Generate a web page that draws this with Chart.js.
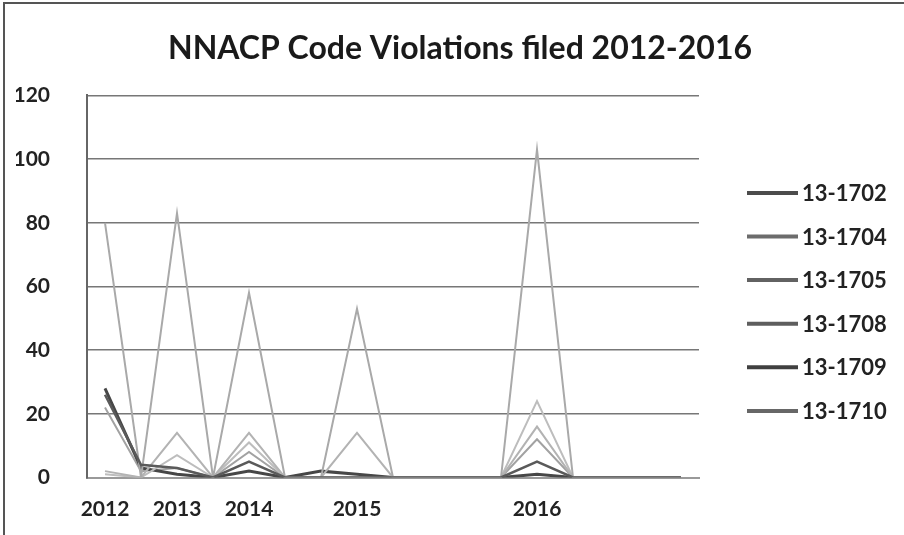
<!DOCTYPE html>
<html>
<head>
<meta charset="utf-8">
<title>NNACP Code Violations filed 2012-2016</title>
<script src="https://cdn.jsdelivr.net/npm/chart.js@4/dist/chart.umd.min.js"></script>
<style>
  html, body { margin: 0; padding: 0; background: #fff; }
</style>
</head>
<body>
<canvas id="violations" width="904" height="535"></canvas>
<script>
// Filing periods along the x axis; only the first period of each year carries a label
const periods = ["2012", "", "2013", "", "2014", "", "", "2015", "", "", "", "", "2016", "", "", "", ""];
const yTicks = [0, 20, 40, 60, 80, 100, 120];

// Code sections, one line each
const codes = ["13-1702", "13-1704", "13-1705", "13-1708", "13-1709", "13-1710"];

// Violations filed per period for each code
const v1702 = [26, 4, 3, 0, 5, 0, 0, 0, 0, 0, 0, 0, 5, 0, 0, 0, 0];
const v1704 = [80, 0, 83, 0, 58, 0, 0, 53, 0, 0, 0, 0, 103, 0, 0, 0, 0];
const v1705 = [2, 0, 14, 0, 14, 0, 0, 14, 0, 0, 0, 0, 16, 0, 0, 0, 0];
const v1708 = [1, 0, 7, 0, 11, 0, 0, 0, 0, 0, 0, 0, 24, 0, 0, 0, 0];
const v1709 = [28, 3, 1, 0, 2, 0, 2, 1, 0, 0, 0, 0, 1, 0, 0, 0, 0];
const v1710 = [22, 2, 3, 0, 8, 0, 0, 0, 0, 0, 0, 0, 12, 0, 0, 0, 0];

const seriesValues = [v1702, v1704, v1705, v1708, v1709, v1710];

// line styles: plot stroke, legend stroke, width
const lineColors = ["#5a5a5a", "#a9a9a9", "#b3b3b3", "#bdbdbd", "#474747", "#a2a2a2"];
const legendColors = ["#4c4c4c", "#6c6c6c", "#626262", "#5e5e5e", "#404040", "#676767"];
const lineWidths = [2.5, 2, 2, 2, 3, 2];

const FONT = "Lato, 'Open Sans', sans-serif";

const datasets = codes.map((code, i) => ({
  label: code,
  data: seriesValues[i],
  borderColor: lineColors[i],
  backgroundColor: lineColors[i],
  borderWidth: lineWidths[i],
  pointRadius: 0,
  tension: 0,
  fill: false,
}));

// Draws the outer frame and the legend in the space kept free on the right
const frameAndLegend = {
  id: "frameAndLegend",
  beforeDraw(chart) {
    const { ctx, width, height } = chart;
    ctx.save();
    ctx.fillStyle = "#ffffff";
    ctx.fillRect(0, 0, width, height);
    ctx.strokeStyle = "#555";
    ctx.lineWidth = 2;
    ctx.beginPath();
    ctx.moveTo(4, height);
    ctx.lineTo(4, 3);
    ctx.lineTo(width, 3);
    ctx.stroke();
    ctx.restore();
  },
  afterDraw(chart) {
    const { ctx, chartArea } = chart;
    const x0 = chartArea.right + 48;
    const top = chartArea.top + 97.5;
    ctx.save();
    ctx.font = "bold 22px " + FONT;
    ctx.textBaseline = "middle";
    ctx.textAlign = "left";
    chart.data.datasets.forEach((ds, i) => {
      const y = top + i * 43.6;
      ctx.strokeStyle = legendColors[i];
      ctx.lineWidth = 4;
      ctx.beginPath();
      ctx.moveTo(x0, y);
      ctx.lineTo(x0 + 51, y);
      ctx.stroke();
      ctx.fillStyle = "#222";
      ctx.fillText(ds.label, x0 + 55, y + 1);
    });
    ctx.restore();
  },
};

new Chart(document.getElementById("violations"), {
  type: "line",
  data: { labels: periods, datasets: datasets },
  plugins: [frameAndLegend],
  options: {
    responsive: false,
    animation: false,
    layout: { padding: { left: 16, top: 0, right: 0, bottom: 0 } },
    plugins: {
      legend: { display: false },
      tooltip: { enabled: false },
      title: {
        display: true,
        text: "NNACP Code Violations filed 2012-2016",
        color: "#1a1a1a",
        font: { family: FONT, size: 32, weight: "bold" },
        padding: { top: 29, bottom: 28 },
      },
    },
    scales: {
      x: {
        offset: true,
        grid: { display: false, drawTicks: false },
        border: { display: true, color: "#999", width: 2 },
        ticks: {
          autoSkip: false,
          maxRotation: 0,
          padding: 19,
          color: "#222",
          font: { family: FONT, size: 21, weight: "bold" },
        },
        afterFit(scale) {
          scale.height = 57.5;
        },
      },
      y: {
        min: 0,
        max: 120,
        afterBuildTicks(scale) {
          scale.ticks = yTicks.map((v) => ({ value: v }));
        },
        grid: { color: "#777", lineWidth: 1.6, drawTicks: false },
        border: { display: true, color: "#666", width: 2 },
        ticks: {
          padding: 37,
          color: "#222",
          font: { family: FONT, size: 21, weight: "bold" },
        },
        afterFit(scale) {
          scale.width = 71;
        },
      },
      // empty axis that holds the room for the legend
      legendRoom: {
        position: "right",
        display: true,
        grid: { display: false },
        border: { display: false },
        ticks: { display: false },
        afterFit(scale) {
          scale.width = 205;
        },
      },
    },
  },
});
</script>
</body>
</html>
